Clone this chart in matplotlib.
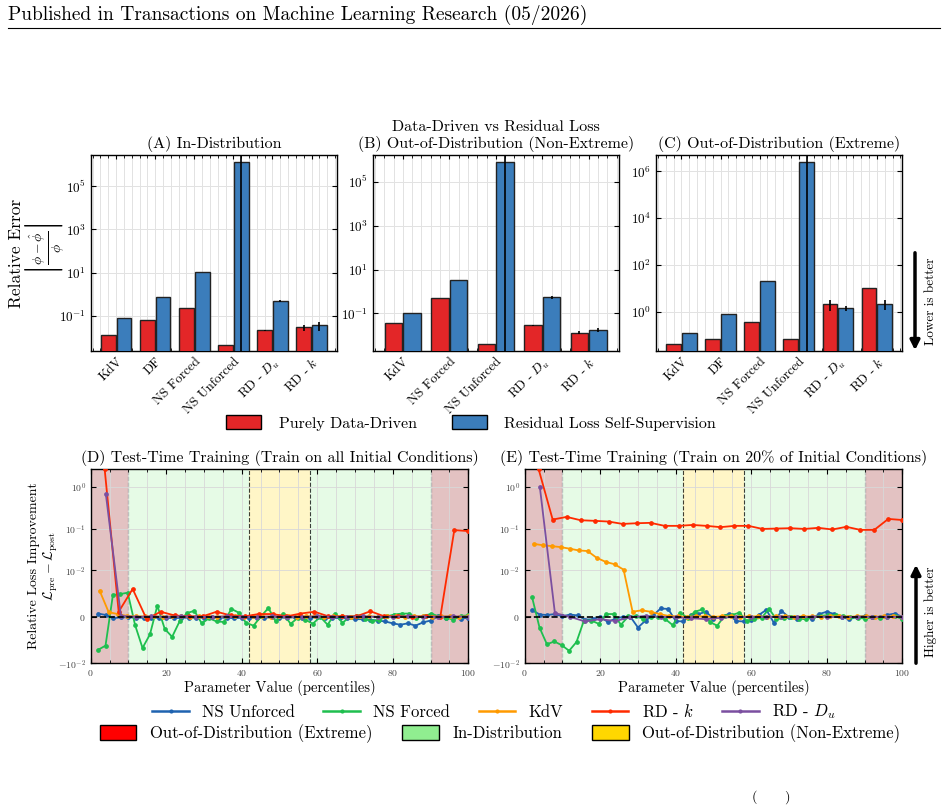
import numpy as np
import matplotlib
matplotlib.use('Agg')
import matplotlib.pyplot as plt
from matplotlib.patches import Patch, FancyArrowPatch
from matplotlib.lines import Line2D
from matplotlib.ticker import MultipleLocator, NullLocator, FixedLocator

plt.rcParams.update({
    'font.family': ['cmr10', 'DejaVu Serif'],
    'mathtext.fontset': 'cm',
    'axes.formatter.use_mathtext': True,
    'axes.unicode_minus': False,
    'xtick.direction': 'in', 'ytick.direction': 'in',
    'xtick.top': True, 'ytick.right': True,
    'axes.linewidth': 1.0,
})

# ---------------- bar data ----------------
cats_A = ['KdV', 'DF', 'NS Forced', 'NS Unforced', 'RD - $D_u$', 'RD - $k$']
dd_A = [0.0138, 0.068, 0.226, 0.0048, 0.022, 0.030]
rl_A = [0.081, 0.78, 10.7, 1.3e6, 0.48, 0.037]
dd_err_A = [0, 0, 0, 0, 0.001, 0.010]
rl_err_A = [0, 0, 0, 1.95e6, 0.05, 0.016]

cats_B = ['KdV', 'NS Forced', 'NS Unforced', 'RD - $D_u$', 'RD - $k$']
dd_B = [0.038, 0.52, 0.0039, 0.029, 0.013]
rl_B = [0.107, 3.16, 7.8e5, 0.55, 0.018]
dd_err_B = [0, 0, 0, 0.002, 0.002]
rl_err_B = [0, 0, 1.2e6, 0.08, 0.004]

cats_C = ['KdV', 'DF', 'NS Forced', 'NS Unforced', 'RD - $D_u$', 'RD - $k$']
dd_C = [0.045, 0.074, 0.37, 0.071, 2.26, 10.8]
rl_C = [0.124, 0.85, 22.0, 2.4e6, 1.43, 2.26]
dd_err_C = [0, 0, 0, 0, 1.15, 0]
rl_err_C = [0, 0, 0, 3.6e6, 0.35, 1.1]

# ---------------- test-time training data ----------------
D_ns_unforced = [0.0007, 0.0004, -0.0003, -0.0001, -0.0001, -0.0002, -0.0002, -0.0002, -0.0002, -0.0002,
                 -0.0003, -0.0002, -0.0002, -0.0002, -0.0002, -0.0001, -0.0002, -0.0002, -0.0003, -0.0002,
                 -0.0002, -0.0003, -0.0002, -0.0001, -0.0002, -0.0002, -0.0001, -0.0002, -0.0002, -0.0001,
                 -0.0002, -0.0002, -0.0003, -0.0003, -0.0005, -0.0005, -0.0006, -0.0008, -0.0010, -0.0014,
                 -0.0017, -0.0014, -0.0019, -0.0012, -0.0008, 0.0001, -0.0002, -0.0001, -0.0004, -0.0002]
D_ns_forced = [-0.0071, -0.0062, 0.0047, 0.0049, 0.0052, -0.0018, -0.0067, -0.0038, 0.0024, -0.0026,
               -0.0043, -0.0010, 0.0008, 0.0013, -0.0014, -0.0003, -0.0010, -0.0011, 0.0017, 0.0009,
               -0.0013, -0.0019, 0.0001, 0.0019, -0.0010, 0.0007, -0.0015, -0.0002, -0.0006, -0.0015,
               0.0000, -0.0017, 0.0007, -0.0013, 0.0000, 0.0002, -0.0004, -0.0010, -0.0006, 0.0001,
               0.0005, 0.0007, 0.0007, -0.0002, 0.0001, 0.0007, 0.0001, -0.0002, -0.0006, 0.0002, 0.0003]
D_kdv = [0.0056, 0.0010, 0.0006, 0.0002, 0.0001, 0.0001, 0.0001, 0.0000, 0.0001, 0.0001,
         0.0000, 0.0001, 0.0001, 0.0000, 0.0001, 0.0001, 0.0000, 0.0001, 0.0001, 0.0000,
         0.0001, 0.0001, 0.0000, 0.0001, 0.0001, 0.0000, 0.0001, 0.0001, 0.0000, 0.0001,
         0.0001, 0.0000, 0.0001, 0.0001, 0.0000, 0.0001, 0.0001, 0.0000, 0.0001, 0.0001,
         0.0000, 0.0001]
D_rd_k = [2.6, 0.0011, 0.0060, -0.0005, 0.0011, 0.0003, 0.0001, 0.0001, 0.0011, 0.0003,
          0.0001, 0.0006, 0.0006, 0.0001, 0.0007, 0.0011, 0.0001, 0.0001, 0.0001, 0.0012,
          0.0001, 0.0001, 0.0000, 0.0001, 0.0000, 0.092, 0.087]
D_rd_du = [0.68, 0.0002, 0.0000, 0.0001, 0.0000, 0.0001, 0.0000, 0.0000, 0.0001, 0.0000,
           0.0000, 0.0001, 0.0000, 0.0000, 0.0001, 0.0000, 0.0000, 0.0001, 0.0000, 0.0000,
           0.0001, 0.0000, 0.0000, 0.0001, 0.0000]

E_ns_unforced = [0.0014, 0.0005, 0.0004, 0.0006, 0.0001, 0.0005, 0.0003, -0.0006, -0.0005, 0.0000,
                 -0.0011, -0.0004, 0.0000, 0.0000, -0.0023, -0.0008, 0.0003, 0.0018, 0.0017, -0.0009,
                 -0.0010, 0.0004, 0.0006, 0.0011, -0.0004, 0.0000, 0.0006, -0.0009, -0.0010, -0.0007,
                 0.0004, 0.0015, -0.0013, 0.0013, -0.0001, -0.0004, -0.0001, -0.0004, 0.0006, 0.0011,
                 0.0006, -0.0001, -0.0005, 0.0000, 0.0002, -0.0001, -0.0001, 0.0004, 0.0007, 0.0000]
E_ns_forced = [0.0042, -0.0023, -0.0059, -0.0053, -0.0061, -0.0073, -0.0054, -0.0008, -0.0008, -0.0015,
               0.0006, 0.0006, -0.0017, 0.0001, 0.0001, -0.0004, 0.0000, 0.0000, -0.0005, -0.0018,
               0.0009, -0.0002, 0.0011, 0.0016, -0.0011, -0.0019, 0.0002, 0.0004, 0.0009, -0.0009,
               -0.0005, -0.0002, 0.0017, -0.0005, -0.0003, -0.0001, -0.0004, -0.0005, -0.0001, 0.0002,
               0.0004, 0.0004, 0.0002, -0.0001, -0.0002, -0.0004, -0.0001, -0.0002, -0.0001, 0.0002, -0.0005]
E_kdv = [0.043, 0.040, 0.038, 0.036, 0.033, 0.030, 0.029, 0.020, 0.016, 0.014,
         0.0104, 0.0011, 0.0014, 0.0011, 0.0006, 0.0002, 0.0001, 0.0000, 0.0001, 0.0001,
         0.0000, 0.0001, 0.0001, 0.0000, 0.0001, 0.0001, 0.0000, 0.0001, 0.0001, 0.0000,
         0.0001, 0.0001, 0.0000, 0.0001, 0.0001, 0.0000, 0.0001, 0.0001, 0.0000, 0.0001,
         0.0001, 0.0000]
E_rd_k = [2.6, 0.164, 0.190, 0.158, 0.153, 0.147, 0.129, 0.134, 0.137, 0.116,
          0.116, 0.122, 0.116, 0.108, 0.116, 0.116, 0.098, 0.100, 0.102, 0.098,
          0.104, 0.095, 0.110, 0.093, 0.093, 0.170, 0.160]
E_rd_du = [1.0, 0.0008, 0.0000, -0.0010, -0.0005, -0.0009, -0.0001, 0.0002, 0.0000, -0.0001,
           -0.0003, -0.0005, -0.0002, 0.0000, -0.0001, 0.0000, 0.0000, -0.0001, 0.0000, 0.0000,
           -0.0001, 0.0000, 0.0000, 0.0000, 0.0000]

series_names = ['NS Unforced', 'NS Forced', 'KdV', 'RD - $k$', 'RD - $D_u$']
series_colors = ['#1f63b0', '#1fbf4f', '#ff9a00', '#ff2a00', '#7b4fa0']

region_bounds = [0, 10, 42, 58, 90, 100]
region_colors = ['darkred', 'lightgreen', 'gold', 'lightgreen', 'darkred']
region_alpha = [0.24, 0.22, 0.22, 0.22, 0.24]

RED = '#e32628'
BLUE = '#3b7dbb'

W, H = 948, 807
fig = plt.figure(figsize=(W / 100, H / 100), dpi=100)


def fx(px):
    return px / W


def fy(py):
    return 1 - py / H


def bar_panel(rect, cats, dd, rl, dd_err, rl_err, ylim, yticks, title):
    ax = fig.add_axes(rect)
    x = np.arange(len(cats))
    ek = dict(ecolor='k', elinewidth=1.2, capsize=0)
    ax.bar(x - 0.2, dd, width=0.38, color=RED, edgecolor='#222222', lw=1.0,
           yerr=dd_err, error_kw=ek, zorder=3)
    ax.bar(x + 0.2, rl, width=0.38, color=BLUE, edgecolor='#222222', lw=1.0,
           yerr=rl_err, error_kw=ek, zorder=3)
    ax.set_yscale('log')
    ax.set_ylim(*ylim)
    ax.set_xlim(-0.65, len(cats) - 1 + 0.65)
    ax.yaxis.set_major_locator(FixedLocator(yticks))
    ax.yaxis.set_minor_locator(NullLocator())
    ax.set_xticks(x)
    ax.set_xticklabels(cats, rotation=45, ha='right', rotation_mode='anchor', fontsize=9.5)
    ax.xaxis.set_minor_locator(MultipleLocator(0.2))
    ax.tick_params(axis='y', labelsize=9.5)
    ax.tick_params(axis='x', which='major', length=3)
    ax.tick_params(axis='x', which='minor', length=2)
    ax.grid(True, axis='x', which='both', color='#e2e2e2', lw=0.7)
    ax.grid(True, axis='y', which='major', color='#e2e2e2', lw=0.7)
    ax.set_axisbelow(True)
    ax.set_title(title, fontsize=11.5, pad=5)
    return ax


bw = 0.2598
bh = fy(155.3) - fy(350.7)
bb = fy(350.7)
axA = bar_panel([fx(90.7), bb, bw, bh], cats_A, dd_A, rl_A, dd_err_A, rl_err_A,
                (0.0025, 2.6e6), [1e-1, 1e1, 1e3, 1e5], '(A) In-Distribution')
axB = bar_panel([fx(372.7), bb, bw, bh], cats_B, dd_B, rl_B, dd_err_B, rl_err_B,
                (0.002, 1.6e6), [1e-1, 1e1, 1e3, 1e5],
                'Data-Driven vs Residual Loss\n(B) Out-of-Distribution (Non-Extreme)')
axC = bar_panel([fx(656), bb, bw, bh], cats_C, dd_C, rl_C, dd_err_C, rl_err_C,
                (0.0224, 4.8e6), [1e0, 1e2, 1e4, 1e6], '(C) Out-of-Distribution (Extreme)')

# y-label of panel A (two stacked lines)
fig.text(fx(16), fy(253), 'Relative Error', rotation=90, ha='center', va='center', fontsize=12.5)
fig.text(fx(45), fy(249), '$\\left|\\frac{\\phi-\\hat{\\phi}}{\\phi}\\right|$', rotation=90,
         ha='center', va='center', fontsize=14)

fig.legend([Patch(facecolor=RED, edgecolor='k'), Patch(facecolor=BLUE, edgecolor='k')],
           ['Purely Data-Driven', 'Residual Loss Self-Supervision'],
           loc='center', bbox_to_anchor=(fx(471), fy(423)), ncol=2, frameon=False,
           fontsize=11.5, handlelength=2.2, handleheight=1.0, handletextpad=1.1,
           columnspacing=2.2)


# ---------------- line panels ----------------
def line_panel(rect, data, title):
    ax = fig.add_axes(rect)
    for i in range(5):
        ax.axvspan(region_bounds[i], region_bounds[i + 1], color=region_colors[i],
                   alpha=region_alpha[i], lw=0, zorder=0)
    for b in region_bounds[1:-1]:
        ax.axvline(b, color='k', ls='--', lw=0.8, alpha=0.75, zorder=1)
    ax.axhline(0, color='k', ls='--', lw=1.2, zorder=4)
    for vals, c in zip(data, series_colors):
        n = len(vals)
        xs = np.arange(1, n + 1) * 100.0 / n
        ax.plot(xs, vals, color=c, lw=1.3, marker='o', ms=2.4, zorder=3)
    ax.set_yscale('symlog', linthresh=1e-2)
    ax.set_ylim(-1e-2, 2.7)
    ax.set_xlim(0, 100)
    ax.yaxis.set_major_locator(FixedLocator([-1e-2, 0, 1e-2, 1e-1, 1e0]))
    ax.yaxis.set_minor_locator(NullLocator())
    ax.xaxis.set_major_locator(MultipleLocator(20))
    ax.xaxis.set_minor_locator(MultipleLocator(5))
    ax.tick_params(labelsize=7, labelcolor='#444444')
    ax.tick_params(axis='x', which='minor', length=2)
    ax.grid(True, axis='x', which='both', color='#d8d8d8', lw=0.6, zorder=0.5)
    ax.grid(True, axis='y', which='major', color='#d8d8d8', lw=0.6, zorder=0.5)
    ax.set_xlabel('Parameter Value (percentiles)', fontsize=10.5, labelpad=1)
    ax.set_title(title, fontsize=11.5, pad=5)
    return ax


lw_ = 0.3983
lh = fy(468.7) - fy(663.3)
lb = fy(663.3)
axD = line_panel([fx(90.7), lb, lw_, lh],
                 [D_ns_unforced, D_ns_forced, D_kdv, D_rd_k, D_rd_du],
                 '(D) Test-Time Training (Train on all Initial Conditions)')
axE = line_panel([fx(524.7), lb, lw_, lh],
                 [E_ns_unforced, E_ns_forced, E_kdv, E_rd_k, E_rd_du],
                 '(E) Test-Time Training (Train on 20% of Initial Conditions)')
axD.set_ylabel('Relative Loss Improvement\n$\\mathcal{L}_{\\rm pre} - \\mathcal{L}_{\\rm post}$',
               fontsize=10)
axD.yaxis.set_label_coords(-0.08, 0.5)

line_handles = [Line2D([], [], color=c, lw=1.8, marker='o', ms=2.0) for c in series_colors]
fig.legend(line_handles, series_names, loc='center', bbox_to_anchor=(fx(494), fy(712)),
           ncol=5, frameon=False, fontsize=12, handlelength=2.2, columnspacing=1.7)
reg_handles = [Patch(facecolor='red', edgecolor='k'), Patch(facecolor='lightgreen', edgecolor='k'),
               Patch(facecolor='gold', edgecolor='k')]
fig.legend(reg_handles, ['Out-of-Distribution (Extreme)', 'In-Distribution',
                         'Out-of-Distribution (Non-Extreme)'],
           loc='center', bbox_to_anchor=(fx(500), fy(734)), ncol=3, frameon=False,
           fontsize=12, handlelength=2.2, handleheight=1.0, columnspacing=1.8)

# arrows
fig.add_artist(FancyArrowPatch((fx(915), fy(250)), (fx(915), fy(353)),
               transform=fig.transFigure, arrowstyle='-|>', mutation_scale=14, lw=2.5, color='k'))
fig.text(fx(931), fy(301), 'Lower is better', rotation=90, ha='center', va='center', fontsize=9.5)
fig.add_artist(FancyArrowPatch((fx(916), fy(666)), (fx(916), fy(562)),
               transform=fig.transFigure, arrowstyle='-|>', mutation_scale=14, lw=2.5, color='k'))
fig.text(fx(931), fy(612), 'Higher is better', rotation=90, ha='center', va='center', fontsize=9.5)

# page header / footer fragments
fig.text(fx(8), fy(15), 'Published in Transactions on Machine Learning Research (05/2026)',
         fontsize=14, ha='left', va='center')
fig.add_artist(Line2D([fx(8), fx(940)], [fy(28), fy(28)], color='k', lw=0.8,
                      transform=fig.transFigure))
fig.text(fx(771), fy(797), '(\u2003\u2003)', fontsize=10, ha='center', va='center')

fig.savefig('out.png', dpi=100)
